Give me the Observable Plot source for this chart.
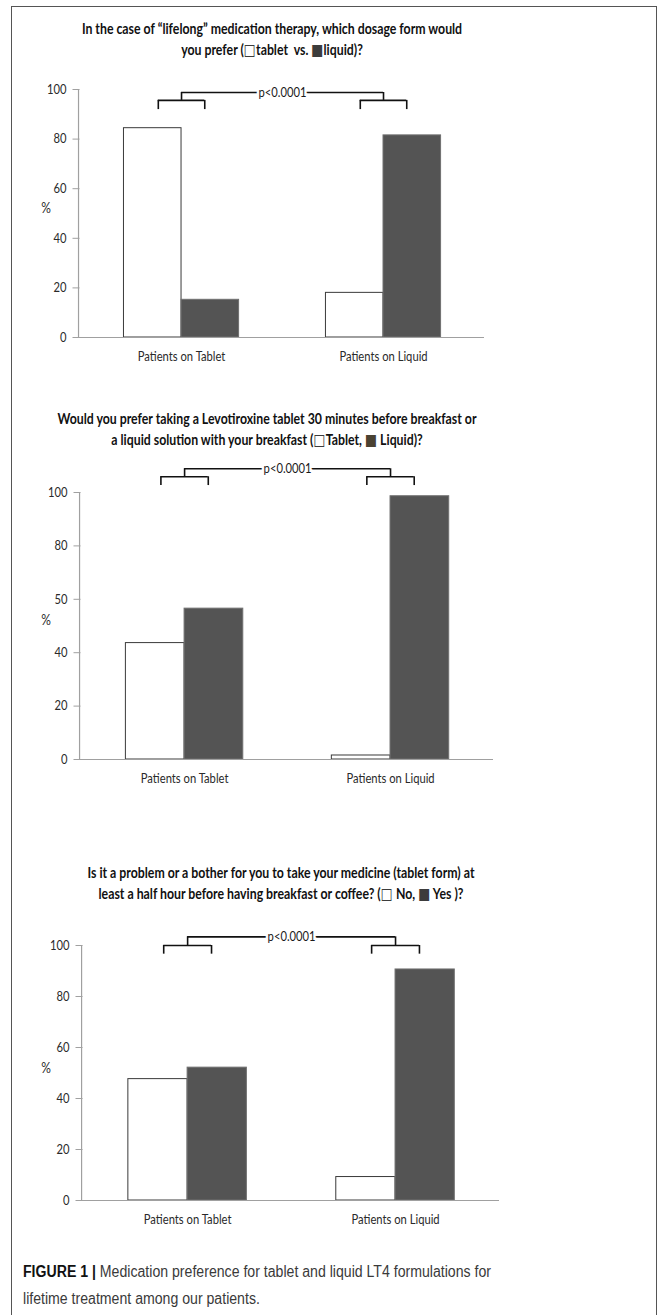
<!DOCTYPE html>
<html>
<head>
<meta charset="utf-8">
<script src="https://cdn.jsdelivr.net/npm/d3@7"></script>
<script src="https://cdn.jsdelivr.net/npm/@observablehq/plot@0.6"></script>
<style>
  html, body { margin: 0; padding: 0; background: #fff; }
  body { width: 669px; height: 1315px; position: relative; overflow: hidden; }
  #frame { position: absolute; left: 11px; top: 6px; width: 646px; height: 1320px; border: 1px solid #555; box-sizing: border-box; }
  .title { position: absolute; text-align: center; font-family: Lato, sans-serif; font-weight: bold; font-size: 15px; line-height: 20.5px; color: #111; white-space: nowrap; transform-origin: 50% 50%; }
  .sq { font-family: "DejaVu Sans", sans-serif; font-size: 1.05em; font-weight: normal; color: #3c3c3c; }
  .panel { position: absolute; left: 0; }
  .caption { position: absolute; left: 23px; font-family: "Liberation Sans", Arial, sans-serif; font-size: 16px; line-height: 27px; color: #3a3a3a; white-space: nowrap; transform-origin: 0 50%; }
  .caption b { color: #111; }
</style>
</head>
<body>
<div id="frame"></div>
<div id="root"></div>
<script>
// ---------- data ----------
const groups = ["Patients on Tablet", "Patients on Liquid"];
const seriesKeys = ["tablet", "liquid"];

const q1Tablet = [84.4, 18.0];
const q1Liquid = [15.2, 81.5];

const q2Tablet = [43.6, 1.5];
const q2Liquid = [56.5, 98.6];

const q3No = [47.6, 9.2];
const q3Yes = [52.1, 90.6];

const yTicks = [0, 20, 40, 60, 80, 100];
const yTickLabels = ["0", "20", "40", "60", "80", "100"];
const yTickLabels2 = ["0", "20", "40", "50", "80", "100"];

const W_SQ = "<span class='sq'>\u25A1</span>";
const B_SQ = "<span class='sq'>\u25A0</span>";
const O_SQ = "<span class='sq' style='color:#4a4232'>\u25A0</span>";
const title1 = ["In the case of \u201Clifelong\u201D medication therapy, which dosage form would", `you prefer (${W_SQ}tablet&nbsp; vs. ${B_SQ}liquid)?`];
const title2 = ["Would you prefer taking a Levotiroxine tablet 30 minutes before breakfast or", `a liquid solution with your breakfast (${W_SQ}Tablet, ${O_SQ} Liquid)?`];
const title3 = ["Is it a problem or a bother for you to take your medicine (tablet form) at", `least a half hour before having breakfast or coffee? (${W_SQ} No, ${B_SQ} Yes )?`];
const pText = "p<0.0001";
const yLabel = "%";
const captionBold = "FIGURE 1 |";
const captionLines = ["Medication preference for tablet and liquid LT4 formulations for", "lifetime treatment among our patients."];

// ---------- layout / style ----------
const FONT = "Lato, sans-serif";
const panels = [
  { a: q1Tablet, b: q1Liquid, labels: yTickLabels, title: title1, titleTop: 18, titleCx: 272,
    top: 60, height: 312, mL: 76, mR: 185, mT: 29, mB: 35, br: [98.8, 95.6, 91.9] },
  { a: q2Tablet, b: q2Liquid, labels: yTickLabels2, title: title2, titleTop: 408, titleCx: 267,
    top: 452, height: 342, mL: 77, mR: 176, mT: 40, mB: 35, br: [108.9, 105.9, 102.6] },
  { a: q3No, b: q3Yes, labels: yTickLabels, title: title3, titleTop: 862, titleCx: 281,
    top: 910, height: 325, mL: 79, mR: 170, mT: 35, mB: 35, br: [103.4, 100.0, 96.6] }
];

const X0 = -0.52, X1 = 1.5;   // x domain (group index units)
const W = 0.285;              // bar width in group units
const BW = 0.115;             // half-width of the small brackets

const root = document.getElementById("root");

// width calibration for the Calibri-like narrow look
const ctx = document.createElement("canvas").getContext("2d");
ctx.font = "bold 15px Lato";
const titleSX = 381 / ctx.measureText(title1[0]).width;
ctx.font = "13.5px Lato";
const TEXT_SX = 88 / ctx.measureText(groups[0]).width;

function compressSvgText(svg, k) {
  svg.querySelectorAll("text").forEach((el) => {
    const len = el.getComputedTextLength();
    if (len > 0) {
      el.setAttribute("textLength", (len * k).toFixed(2));
      el.setAttribute("lengthAdjust", "spacingAndGlyphs");
    }
  });
}

panels.forEach((p) => {
  const t = document.createElement("div");
  t.className = "title";
  t.style.top = p.titleTop + "px";
  t.style.left = (p.titleCx - 350) + "px";
  t.style.width = "700px";
  t.style.transform = `scaleX(${titleSX.toFixed(4)})`;
  t.innerHTML = p.title.join("<br>");
  root.appendChild(t);

  const rows = [];
  groups.forEach((g, i) => {
    rows.push({ g: i, s: seriesKeys[0], v: p.a[i] });
    rows.push({ g: i, s: seriesKeys[1], v: p.b[i] });
  });

  const [ym, ys, ye] = p.br;
  const gIdx = groups.map((_, i) => i);

  const chart = Plot.plot({
    width: 669,
    height: p.height,
    marginLeft: p.mL,
    marginRight: p.mR,
    marginTop: p.mT,
    marginBottom: p.mB,
    style: { fontFamily: FONT, fontSize: "13.5px", color: "#333", background: "transparent", overflow: "visible" },
    x: { domain: [X0, X1], axis: null },
    y: { domain: [0, 100], axis: null },
    marks: [
      // bars
      Plot.rectY(rows, {
        x1: d => d.g + (d.s === seriesKeys[0] ? -W : 0),
        x2: d => d.g + (d.s === seriesKeys[0] ? 0 : W),
        y1: 0,
        y2: "v",
        fill: d => d.s === seriesKeys[0] ? "#ffffff" : "#545454",
        stroke: d => d.s === seriesKeys[0] ? "#3a3a3a" : "#707070",
        strokeWidth: 1
      }),
      // axis lines
      Plot.ruleY([0], { stroke: "#a0a0a0", strokeWidth: 1.2 }),
      Plot.ruleX([X0 + 0.01], { y1: 0, y2: 100, stroke: "#a0a0a0", strokeWidth: 1.2 }),
      Plot.axisY({ ticks: yTicks, tickFormat: (d) => p.labels[yTicks.indexOf(d)], tickSize: 7, dx: 3.5, tickPadding: 6.5,
                   stroke: "#a0a0a0", fill: "#2a2a2a", fontSize: 13.5, label: null }),
      Plot.axisX({ ticks: gIdx, tickFormat: (i) => groups[i], tickSize: 0, tickPadding: 14,
                   fill: "#2a2a2a", fontSize: 13.5, label: null }),
      Plot.text([yLabel], { frameAnchor: "left", dx: -(p.mL - 45.5), y: 52, textAnchor: "middle", fontSize: 14.5, fill: "#2a2a2a" }),
      // significance bracket
      Plot.ruleY(gIdx, { x1: d => d - BW, x2: d => d + BW, y: ys, stroke: "#111", strokeWidth: 1.6 }),
      Plot.ruleX(gIdx.flatMap(d => [d - BW, d + BW]), { y1: ys, y2: ye, stroke: "#111", strokeWidth: 1.6 }),
      Plot.ruleX(gIdx, { y1: ys, y2: ym, stroke: "#111", strokeWidth: 1.6 }),
      Plot.ruleY([ym], { x1: gIdx[0], x2: gIdx[1], stroke: "#111", strokeWidth: 1.6 }),
      Plot.text([pText], { x: (gIdx[0] + gIdx[1]) / 2, y: ym, text: d => d, fontSize: 13.5, fill: "#1a1a1a",
                           stroke: "white", strokeWidth: 6, paintOrder: "stroke" })
    ]
  });
  chart.classList.add("panel");
  chart.style.top = p.top + "px";
  root.appendChild(chart);
  compressSvgText(chart, TEXT_SX);
});

// caption
ctx.font = "16px 'Liberation Sans'";
const capW = ctx.measureText(captionLines[0]).width;
ctx.font = "bold 16px 'Liberation Sans'";
const capBW = ctx.measureText(captionBold + " ").width;
const capSX = 468 / (capW + capBW);
captionLines.forEach((line, i) => {
  const c = document.createElement("div");
  c.className = "caption";
  c.style.top = (1258 + i * 27) + "px";
  c.style.transform = `scaleX(${capSX.toFixed(4)})`;
  c.innerHTML = i === 0 ? `<b>${captionBold}</b> ${line}` : line;
  root.appendChild(c);
});
</script>
</body>
</html>
